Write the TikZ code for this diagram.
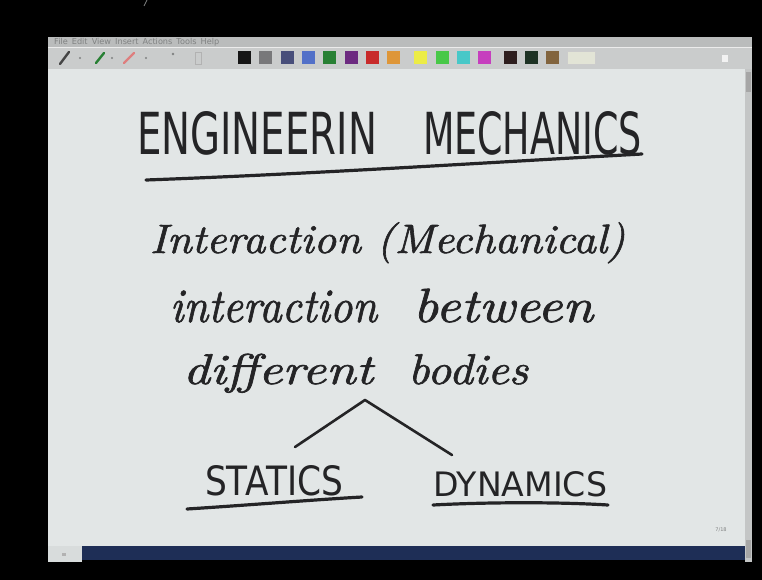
\documentclass[tikz,border=0pt]{standalone}
\usepackage{fontspec}
\newfontfamily\capsfont{DejaVu Sans}
\newfontfamily\handfont[FakeBold=1.4]{Latin Modern Roman}
\newfontfamily\uifont{DejaVu Sans}
\definecolor{ink}{RGB}{36,36,38}
\definecolor{canvas}{RGB}{226,230,230}
\definecolor{menubg}{RGB}{186,188,188}
\definecolor{toolbg}{RGB}{202,204,204}
\definecolor{menutext}{RGB}{128,130,130}
\definecolor{navy}{RGB}{30,46,86}
\definecolor{scrollbg}{RGB}{196,198,198}
\definecolor{sw1}{RGB}{22,22,22}
\definecolor{sw2}{RGB}{120,120,122}
\definecolor{sw3}{RGB}{72,78,122}
\definecolor{sw4}{RGB}{82,112,200}
\definecolor{sw5}{RGB}{40,128,52}
\definecolor{sw6}{RGB}{108,42,128}
\definecolor{sw7}{RGB}{200,42,42}
\definecolor{sw8}{RGB}{222,150,56}
\definecolor{sw9}{RGB}{236,236,70}
\definecolor{sw10}{RGB}{72,200,72}
\definecolor{sw11}{RGB}{72,200,200}
\definecolor{sw12}{RGB}{198,62,190}
\definecolor{sw13}{RGB}{46,30,30}
\definecolor{sw14}{RGB}{30,50,36}
\definecolor{sw15}{RGB}{130,100,62}
\definecolor{sw16}{RGB}{226,228,214}
\tikzset{
  inkline/.style={draw=ink, line width=3.2pt, line cap=round, line join=round},
  treeline/.style={draw=ink, line width=2.6pt, line cap=round, line join=round},
  txt/.style={inner sep=0pt, outer sep=0pt, anchor=base west, text=ink},
  swatch/.style={inner sep=0pt, minimum width=13pt, minimum height=13pt},
}
\begin{document}
\begin{tikzpicture}[x=1pt,y=-1pt]
\useasboundingbox (0,0) rectangle (762,580);
\fill[black] (0,0) rectangle (762,580);
\draw[menutext, line width=0.8pt] (147,0) -- (144,6);
% window
\fill[menubg] (48,37) rectangle (752,47);
\fill[toolbg] (48,47) rectangle (752,69);
\draw[white!85!gray, line width=0.6pt] (48,47) -- (752,47);
\draw[gray, line width=0.6pt] (48,69) -- (745,69);
\fill[canvas] (48,69.5) rectangle (745,546);
\fill[scrollbg] (745,69.5) rectangle (752,562);
\fill[gray!70] (746,72) rectangle (751,92);
\fill[gray!70] (746,540) rectangle (751,558);
\fill[navy] (82,546) rectangle (745,560);
\fill[canvas!90!gray] (48,546) rectangle (82,562);
\fill[gray!60] (62,553) rectangle (66,556);
% menu text
\node[anchor=west, inner sep=0pt, text=menutext] (menu) at (54,42)
  {\resizebox{165pt}{!}{\uifont File\hspace{5pt}Edit\hspace{5pt}View\hspace{5pt}Insert\hspace{5pt}Actions\hspace{5pt}Tools\hspace{5pt}Help}};
% pens
\draw[sw1!80, line width=2.4pt, line cap=round] (60,64) -- (69,52);
\fill[menutext] (80,58) circle (1.2pt);
\draw[sw5, line width=2.4pt, line cap=round] (96,63) -- (104,53);
\fill[menutext] (112,58) circle (1.2pt);
\draw[sw7!60, line width=2.4pt, line cap=round] (124,63) -- (134,53);
\fill[menutext] (146,58) circle (1.2pt);
\fill[menutext] (173,54) circle (1.4pt);
\draw[gray!60, line width=0.6pt] (195,52) rectangle (201,64);
\fill[white!90!gray] (722,55) rectangle (728,62);
% swatches
\foreach \xx/\cc [count=\i] in {238/sw1,259/sw2,281/sw3,302/sw4,323/sw5,345/sw6,366/sw7,387/sw8,414/sw9,436/sw10,457/sw11,478/sw12,504/sw13,525/sw14,546/sw15}
  \node[swatch, fill=\cc, anchor=north west] (sw\i) at (\xx,51) {};
\node[swatch, fill=sw16, draw=gray!40, minimum width=28pt, anchor=north west] (sw16) at (567,51) {};
% page number
\node[anchor=center, inner sep=0pt, text=menutext, font=\uifont\fontsize{5}{6}\selectfont] (page) at (721,530) {7/18};
% title
\node[txt] (eng) at (137,155) {\resizebox{240pt}{43pt}{\capsfont ENGINEERIN}};
\node[txt] (mech) at (423,155) {\resizebox{219pt}{43pt}{\capsfont MECHANICS}};
\coordinate (ulA) at (146,180);
\coordinate (ulB) at (642,154);
\draw[inkline] (ulA) .. controls (310,174) and (480,163) .. (ulB);
% cursive lines
\node[txt] (line1) at (150,253) {\resizebox{475pt}{4.1\height}{\handfont\itshape Interaction (Mechanical)}};
\node[txt] (inter) at (170,322) {\resizebox{207pt}{4.8\height}{\handfont\itshape interaction}};
\node[txt] (betw) at (413,322) {\resizebox{180pt}{4.8\height}{\handfont\itshape between}};
\node[txt] (diff) at (183,384) {\resizebox{190pt}{4.3\height}{\handfont\itshape different}};
\node[txt] (bod) at (408,384) {\resizebox{120pt}{4.3\height}{\handfont\itshape bodies}};
% tree
\coordinate (apex) at (365,400);
\coordinate (tl) at (295,447);
\coordinate (tr) at (452,455);
\draw[treeline] (tl) -- (apex) -- (tr);
% branches
\node[txt] (stat) at (205,495) {\resizebox{138pt}{30pt}{\capsfont STATICS}};
\node[txt] (dyn) at (433,496) {\resizebox{174pt}{25pt}{\capsfont DYNAMICS}};
\coordinate (usA) at (187,509);
\coordinate (usB) at (362,497);
\draw[inkline] (usA) .. controls (250,505) and (310,500) .. (usB);
\coordinate (udA) at (433,505);
\coordinate (udB) at (608,505);
\draw[inkline] (udA) .. controls (490,502) and (560,502) .. (udB);
\end{tikzpicture}
\end{document}
